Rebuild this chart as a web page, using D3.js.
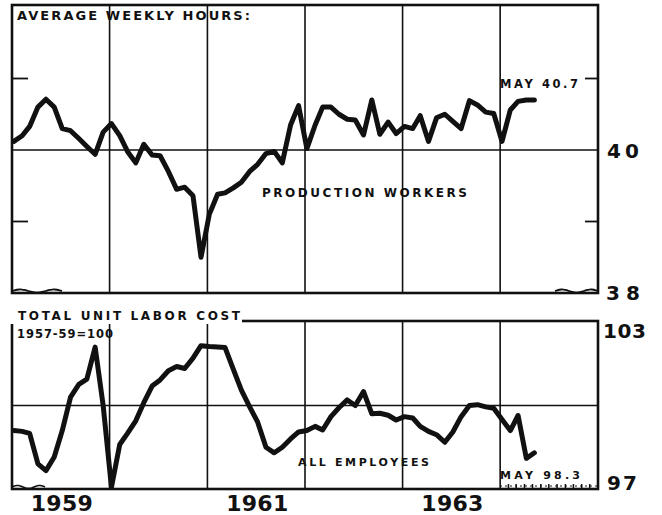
<!DOCTYPE html>
<html>
<head>
<meta charset="utf-8">
<script src="https://cdn.jsdelivr.net/npm/d3@7"></script>
<style>
  html, body { margin: 0; padding: 0; background: #fff; }
  svg { display: block; }
  text { font-family: "DejaVu Sans", sans-serif; font-weight: bold; fill: #111; }
</style>
</head>
<body>
<svg id="chart" width="662" height="515"></svg>
<script>
// ---------- DATA (monthly, Jan 1959 - May 1964) ----------
const startYear = 1959;
const hours = [
  40.12, 40.2, 40.33, 40.6, 40.71, 40.6, 40.3, 40.27, 40.16, 40.05, 39.94, 40.25,
  40.37, 40.2, 39.98, 39.82, 40.08, 39.93, 39.92, 39.7, 39.45, 39.48, 39.36, 38.5,
  39.1, 39.38, 39.4, 39.47, 39.55, 39.7, 39.8, 39.95, 39.98, 39.82, 40.35, 40.62,
  40.02, 40.35, 40.6, 40.6, 40.5, 40.43, 40.42, 40.21, 40.7, 40.22, 40.39, 40.23,
  40.33, 40.3, 40.48, 40.12, 40.45, 40.5, 40.4, 40.3, 40.69, 40.63, 40.53, 40.51,
  40.12, 40.56, 40.68, 40.7, 40.7
];
const laborCost = [
  99.1, 99.07, 99.0, 97.9, 97.66, 98.15, 99.1, 100.3, 100.76, 100.95, 102.1, 100.0,
  97.06, 98.6, 99.0, 99.45, 100.1, 100.7, 100.92, 101.25, 101.4, 101.33, 101.7, 102.15,
  102.12, 102.1, 102.08, 101.3, 100.55, 99.95, 99.4, 98.5, 98.3, 98.5, 98.8, 99.05,
  99.1, 99.25, 99.12, 99.6, 99.92, 100.2, 100.0, 100.5, 99.7, 99.72, 99.65, 99.48,
  99.6, 99.55, 99.25, 99.07, 98.95, 98.68, 99.05, 99.6, 100.0, 100.03, 99.95, 99.9,
  99.5, 99.1, 99.64, 98.1, 98.3
];
const yearLabels = ["1959", "1961", "1963"];
const hoursTicks = [39, 41];
const hoursTickLabels = ["40", "38"];
const costTickLabels = ["103", "97"];
const topTitle = "AVERAGE WEEKLY HOURS:";
const topSeriesLabel = "PRODUCTION WORKERS";
const topEndLabel = "MAY 40.7";
const botTitle = "TOTAL UNIT LABOR COST";
const botBase = "1957-59=100";
const botSeriesLabel = "ALL EMPLOYEES";
const botEndLabel = "MAY 98.3";

// ---------- LAYOUT ----------
const svg = d3.select("#chart");
const X0 = 12, X1 = 598;
const topP = { y0: 5, y1: 293 };
const botP = { y0: 321, y1: 489 };

const x = d3.scaleTime()
  .domain([new Date(1959, 0, 1), new Date(1965, 0, 1)])
  .range([X0, X1]);
const dateOf = i => new Date(startYear, i, 8);

const yH = d3.scaleLinear().domain([38, 42]).range([293, 7]);
const yC = d3.scaleLinear().domain([97, 103]).range([489, 322]);

const yearBounds = d3.range(1960, 1965).map(y => new Date(y, 0, 1));

function panel(p, yScale, mid) {
  const g = svg.append("g");
  g.selectAll("line.v").data(yearBounds).join("line")
    .attr("x1", d => x(d)).attr("x2", d => x(d))
    .attr("y1", p.y0).attr("y2", p.y1)
    .attr("stroke", "#111").attr("stroke-width", 1.6);
  g.append("line")
    .attr("x1", X0).attr("x2", X1)
    .attr("y1", yScale(mid)).attr("y2", yScale(mid))
    .attr("stroke", "#111").attr("stroke-width", 1.6);
  g.append("rect")
    .attr("x", X0).attr("y", p.y0)
    .attr("width", X1 - X0).attr("height", p.y1 - p.y0)
    .attr("fill", "none").attr("stroke", "#111").attr("stroke-width", 2.6);
  return g;
}

const gTop = panel(topP, yH, 40);
const gBot = panel(botP, yC, 100);

gTop.selectAll("line.lt").data(hoursTicks).join("line")
  .attr("x1", X0).attr("x2", X0 + 16)
  .attr("y1", d => yH(d)).attr("y2", d => yH(d))
  .attr("stroke", "#111").attr("stroke-width", 1.8);
gTop.selectAll("line.rt").data(hoursTicks).join("line")
  .attr("x1", X1 - 13).attr("x2", X1)
  .attr("y1", d => yH(d)).attr("y2", d => yH(d))
  .attr("stroke", "#111").attr("stroke-width", 1.8);

function wave(xa, xb, yb) {
  const pts = d3.range(0, 1.0001, 0.05).map(t => [xa + t * (xb - xa), yb - 2 - 1.6 * Math.sin(t * Math.PI * 3)]);
  return d3.line().curve(d3.curveBasis)(pts);
}
svg.append("path").attr("d", wave(X0, 62, topP.y1)).attr("fill", "none").attr("stroke", "#111").attr("stroke-width", 1.8);
svg.append("path").attr("d", wave(555, X1, topP.y1)).attr("fill", "none").attr("stroke", "#111").attr("stroke-width", 1.8);
svg.append("path").attr("d", wave(X0, 45, botP.y1)).attr("fill", "none").attr("stroke", "#111").attr("stroke-width", 1.6);

const months1964 = d3.range(1, 12).map(m => new Date(1964, m, 1));
svg.selectAll("line.mt").data(months1964).join("line")
  .attr("x1", d => x(d)).attr("x2", d => x(d))
  .attr("y1", botP.y1 - 5).attr("y2", botP.y1)
  .attr("stroke", "#111").attr("stroke-width", 1.5);
svg.append("line").attr("x1", 500).attr("x2", X1).attr("y1", botP.y1 - 3).attr("y2", botP.y1 - 3)
  .attr("stroke", "#111").attr("stroke-width", 1).attr("stroke-dasharray", "2,3");

svg.append("rect").attr("x", X0 - 2).attr("y", botP.y0 - 3).attr("width", 232).attr("height", 6).attr("fill", "#fff");

// ---------- LINES ----------
const line = yScale => d3.line().x((d, i) => x(dateOf(i))).y(d => yScale(d)).curve(d3.curveLinear);

svg.append("path").datum(hours)
  .attr("d", line(yH))
  .attr("fill", "none").attr("stroke", "#111").attr("stroke-width", 5)
  .attr("stroke-linejoin", "round").attr("stroke-linecap", "round");

svg.append("path").datum(laborCost)
  .attr("d", line(yC))
  .attr("fill", "none").attr("stroke", "#111").attr("stroke-width", 5)
  .attr("stroke-linejoin", "round").attr("stroke-linecap", "round");

// ---------- TEXT ----------
function label(txt, xx, yy, size, width) {
  const t = svg.append("text").attr("x", xx).attr("y", yy)
    .attr("font-size", size).text(txt);
  if (width) t.attr("textLength", width).attr("lengthAdjust", "spacing");
  return t;
}

label(topTitle, 17, 20, 13, 233);
label(topSeriesLabel, 262, 197, 12, 205);
label(topEndLabel, 500, 88, 11.5, 78);

label(botTitle, 18, 320, 12, 222);
label(botBase, 17, 338, 11.5, 96);
label(botSeriesLabel, 298, 466, 11, 131);
label(botEndLabel, 500, 479, 11, 80);

label(hoursTickLabels[0], 607, 158, 20, 32);
label(hoursTickLabels[1], 606, 300, 20, 34);
label(costTickLabels[0], 603, 338, 20, 43);
label(costTickLabels[1], 607, 490, 20, 30);

yearLabels.forEach(yr => {
  const cx = (x(new Date(+yr, 0, 1)) + x(new Date(+yr + 1, 0, 1))) / 2;
  label(yr, cx - 30, 511, 22, 62);
});
</script>
</body>
</html>
